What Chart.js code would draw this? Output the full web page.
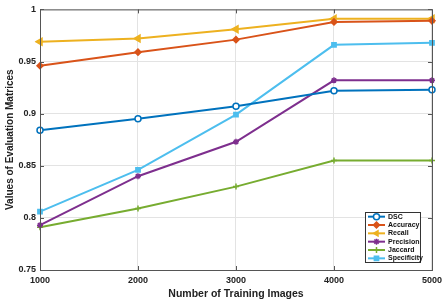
<!DOCTYPE html>
<html>
<head>
<meta charset="utf-8">
<script src="https://cdn.jsdelivr.net/npm/chart.js@4"></script>
<style>
  html, body { margin: 0; padding: 0; background: #fff; }
  #wrap { width: 447px; height: 304px; position: relative; }
</style>
</head>
<body>
<div id="wrap"><canvas id="myChart" width="447" height="304"></canvas></div>
<script>
// Data
const trainingImages = ["1000", "2000", "3000", "4000", "5000"];
const dsc = [0.884, 0.895, 0.907, 0.922, 0.923];
const accuracy = [0.946, 0.959, 0.971, 0.988, 0.989];
const recall = [0.969, 0.972, 0.981, 0.991, 0.991];
const precision = [0.793, 0.840, 0.873, 0.932, 0.932];
const jaccard = [0.791, 0.809, 0.830, 0.855, 0.855];
const specificity = [0.806, 0.846, 0.899, 0.966, 0.968];
const yTicks = [0.75, 0.8, 0.85, 0.9, 0.95, 1];

const FONT = "'Liberation Sans', Arial, sans-serif";

function series(label, data, color, style, extra) {
  return Object.assign({
    label: label,
    data: data,
    borderColor: color,
    backgroundColor: color,
    pointBorderColor: color,
    pointBackgroundColor: color,
    pointStyle: style,
    pointRadius: 3,
    pointBorderWidth: 1.5,
    borderWidth: 2,
    tension: 0,
    fill: false,
  }, extra || {});
}

const datasets = [
  series("DSC", dsc, "#0072BD", "circle", { pointBackgroundColor: "#ffffff" }),
  series("Accuracy", accuracy, "#D95319", "rectRot"),
  series("Recall", recall, "#EDB120", "triangle", { pointRotation: -90, pointRadius: 4 }),
  series("Precision", precision, "#7E2F8E", "star"),
  series("Jaccard", jaccard, "#77AC30", "cross"),
  series("Specificity", specificity, "#4DBEEE", "rect"),
];

// box around plot + legend inside bottom right, MATLAB style
const boxAndLegend = {
  id: "boxAndLegend",
  afterDraw(chart) {
    const ctx = chart.ctx;
    const a = chart.chartArea;
    ctx.save();
    ctx.strokeStyle = "#555";
    ctx.lineWidth = 1;
    ctx.strokeRect(a.left + 0.5, a.top + 0.5, a.right - a.left, a.bottom - a.top);

    // inward tick marks
    const xs = chart.scales.x, ys = chart.scales.y;
    ctx.beginPath();
    trainingImages.forEach((_, i) => {
      const px = Math.round(xs.getPixelForValue(i)) + 0.5;
      ctx.moveTo(px, a.bottom); ctx.lineTo(px, a.bottom - 4);
      ctx.moveTo(px, a.top); ctx.lineTo(px, a.top + 4);
    });
    yTicks.forEach((v) => {
      const py = Math.round(ys.getPixelForValue(v)) + 0.5;
      ctx.moveTo(a.left, py); ctx.lineTo(a.left + 4, py);
      ctx.moveTo(a.right, py); ctx.lineTo(a.right - 4, py);
    });
    ctx.stroke();

    // legend
    const lx = a.right - 67, ly = a.bottom - 58, lw = 55, lh = 50;
    ctx.fillStyle = "#fff";
    ctx.fillRect(lx, ly, lw, lh);
    ctx.strokeStyle = "#333";
    ctx.strokeRect(lx + 0.5, ly + 0.5, lw, lh);
    const rowH = lh / 6;
    ctx.font = "bold 7px " + FONT;
    ctx.textBaseline = "middle";
    chart.data.datasets.forEach((ds, i) => {
      const cy = ly + rowH * (i + 0.5) + 0.5;
      ctx.strokeStyle = ds.borderColor;
      ctx.lineWidth = 2;
      ctx.beginPath();
      ctx.moveTo(lx + 3, cy); ctx.lineTo(lx + 20, cy);
      ctx.stroke();
      ctx.fillStyle = ds.pointBackgroundColor;
      ctx.strokeStyle = ds.pointBorderColor;
      ctx.lineWidth = 1.5;
      Chart.helpers.drawPoint(ctx, {
        pointStyle: ds.pointStyle,
        radius: 3,
        rotation: ds.pointRotation || 0,
        borderWidth: 1.5,
      }, lx + 11.5, cy);
      ctx.fillStyle = "#111";
      ctx.textAlign = "left";
      ctx.fillText(ds.label, lx + 23, cy);
    });
    ctx.restore();
  },
};

const ctx = document.getElementById("myChart").getContext("2d");
new Chart(ctx, {
  type: "line",
  data: { labels: trainingImages, datasets: datasets },
  plugins: [boxAndLegend],
  options: {
    responsive: false,
    animation: false,
    layout: { padding: { top: 9, right: 15, left: 4, bottom: 4 } },
    plugins: {
      legend: { display: false },
      tooltip: { enabled: false },
    },
    scales: {
      x: {
        offset: false,
        grid: { color: "#e3e3e3", drawTicks: false },
        border: { display: false },
        ticks: {
          padding: 5,
          color: "#222",
          font: { family: FONT, size: 9, weight: "bold" },
          maxRotation: 0,
        },
        title: {
          display: true,
          text: "Number of Training Images",
          color: "#222",
          font: { family: FONT, size: 10.5, weight: "bold" },
          padding: { top: 4, bottom: 0 },
        },
        afterFit(scale) { scale.height = 30; },
      },
      y: {
        min: 0.75,
        max: 1,
        afterBuildTicks(scale) { scale.ticks = yTicks.map((v) => ({ value: v })); },
        grid: { color: "#e3e3e3", drawTicks: false },
        border: { display: false },
        ticks: {
          padding: 4,
          color: "#222",
          font: { family: FONT, size: 9, weight: "bold" },
          callback: (v) => String(parseFloat(Number(v).toFixed(2))),
        },
        title: {
          display: true,
          text: "Values of Evaluation Matrices",
          color: "#222",
          font: { family: FONT, size: 10, weight: "bold" },
          padding: { top: 0, bottom: 2 },
        },
        afterFit(scale) { scale.width = 36; },
      },
    },
  },
});
</script>
</body>
</html>
